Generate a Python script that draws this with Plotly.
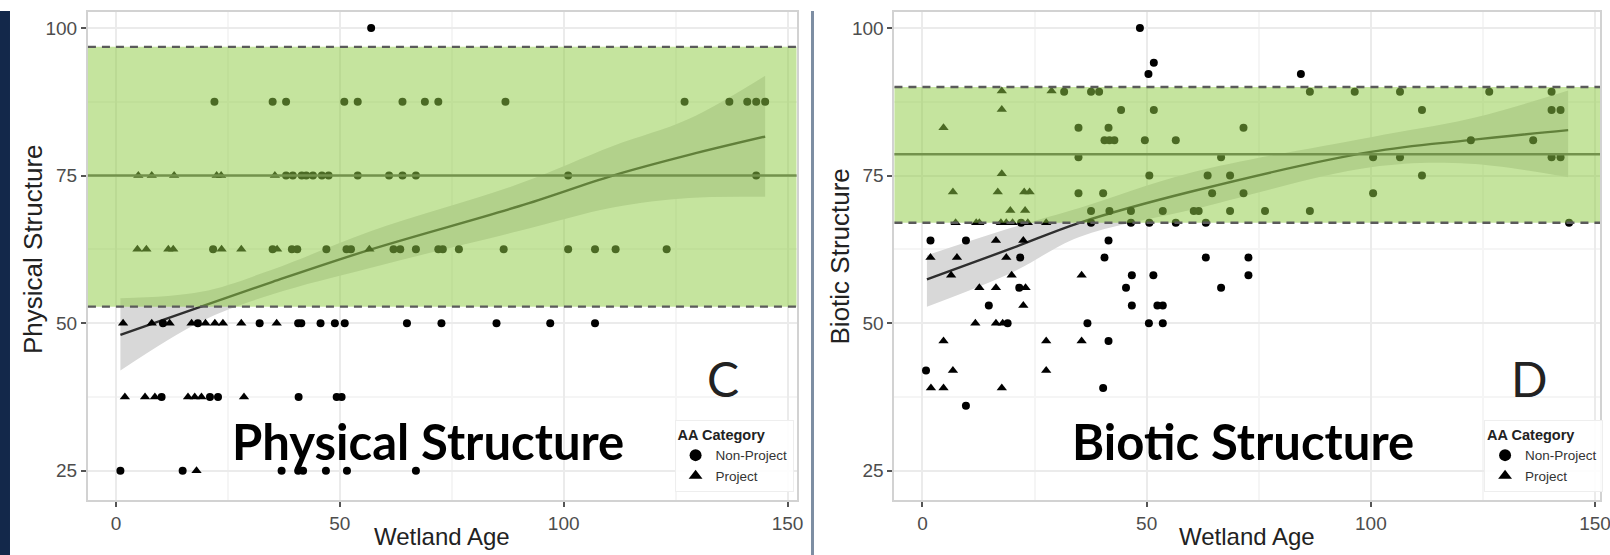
import plotly.graph_objects as go

# ---------------- Panel C: Physical Structure ----------------
c_np_x = [57,
          22, 35, 38, 51, 54, 64, 69, 72, 87, 127, 137, 141, 143, 145,
          38, 39.5, 41.5, 42.5, 44, 46, 47.5, 54, 61, 64, 67, 101, 143,
          21.7, 35, 39.3, 40.5, 47, 51.5, 52.5, 62, 63.5, 67, 72, 73, 76.6, 86.6, 101, 107, 111.6, 123,
          10.5, 18.3, 32.1, 40.7, 41.4, 45.7, 48.9, 51.1, 65, 72.7, 85, 97, 107,
          10.2, 21, 22.8, 40.8, 49.3, 50.4,
          1, 14.9, 37, 40.7, 41.8, 46.9, 51.6, 67]
c_np_y = [100,
          87.5, 87.5, 87.5, 87.5, 87.5, 87.5, 87.5, 87.5, 87.5, 87.5, 87.5, 87.5, 87.5, 87.5,
          75, 75, 75, 75, 75, 75, 75, 75, 75, 75, 75, 75, 75,
          62.5, 62.5, 62.5, 62.5, 62.5, 62.5, 62.5, 62.5, 62.5, 62.5, 62.5, 62.5, 62.5, 62.5, 62.5, 62.5, 62.5, 62.5,
          50, 50, 50, 50, 50, 50, 50, 50, 50, 50, 50, 50, 50,
          37.5, 37.5, 37.5, 37.5, 37.5, 37.5,
          25, 25, 25, 25, 25, 25, 25, 25]
c_p_x = [5, 8, 13, 22.5, 23.5, 35.5,
         4.8, 6.8, 11.7, 12.8, 23.6, 28, 36, 56.6,
         1.6, 8, 12, 16.9, 20, 22.1, 23.9, 28, 35.9,
         2, 6.5, 8.7, 16.1, 17.6, 19.1, 28.6,
         18]
c_p_y = [75, 75, 75, 75, 75, 75,
         62.5, 62.5, 62.5, 62.5, 62.5, 62.5, 62.5, 62.5,
         50, 50, 50, 50, 50, 50, 50, 50, 50,
         37.5, 37.5, 37.5, 37.5, 37.5, 37.5, 37.5,
         25]
c_fit_x = [1, 19, 35, 57, 90, 111, 128, 145]
c_fit_y = [48, 52.8, 57, 62.5, 69.8, 75, 78.5, 81.6]
c_fit_lo = [42, 50.3, 54.9, 59.4, 65.6, 69.6, 71.2, 71.4]
c_fit_hi = [54.2, 55.3, 59.1, 65.6, 73.6, 80, 84.6, 91.9]
c_band = [52.8, 96.8]
c_mean = 75

# ---------------- Panel D: Biotic Structure ----------------
d_np_x = [48.5, 51.6, 50.4, 84.4,
          31.6, 37.6, 39.4, 86.4, 96.4, 106.5, 126.4, 140.3,
          44.3, 51.6, 111.4, 140.3, 142.3,
          34.8, 41.5, 71.6,
          40.6, 41.7, 42.8, 49.6, 56.5, 122.3, 136.2,
          34.8, 66.6, 100.5, 106.5, 140.3, 142.3,
          50.6, 63.6, 68.6, 111.4,
          34.8, 40.3, 64.6, 71.6, 100.5,
          37.6, 41.7, 46.5, 53.6, 60.5, 61.6, 68.6, 76.4, 86.4,
          22, 37.6, 46.5, 50.6, 56.5, 63.2, 144.2,
          1.8, 9.7, 41.5,
          21.8, 40.6, 63.2, 72.7,
          46.7, 51.5, 72.7,
          21.6, 45.4, 66.6,
          14.8, 46.7, 52.4, 53.6,
          19, 36.8, 50.5, 53.6,
          41.5, 0.8, 40.3, 9.7]
d_np_y = [100, 94.1, 92.2, 92.2,
          89.2, 89.2, 89.2, 89.2, 89.2, 89.2, 89.2, 89.2,
          86.1, 86.1, 86.1, 86.1, 86.1,
          83.1, 83.1, 83.1,
          81, 81, 81, 81, 81, 81, 81,
          78.1, 78.1, 78.1, 78.1, 78.1, 78.1,
          75, 75, 75, 75,
          72, 72, 72, 72, 72,
          69, 69, 69, 69, 69, 69, 69, 69, 69,
          67, 67, 67, 67, 67, 67, 67,
          64, 64, 64,
          61.1, 61.1, 61.1, 61.1,
          58.1, 58.1, 58.1,
          56, 56, 56,
          53, 53, 53, 53,
          50, 50, 50, 50,
          47, 42, 39, 36]
d_p_x = [17.7, 28.8, 17.7, 4.7, 17.7,
         6.8, 16.8, 22.7, 23.9,
         19.6, 22.9,
         7.4, 12, 12.7, 17.5, 18.7, 20.1, 23.5, 27.6,
         16.4, 22.5,
         1.8, 7.7, 18.7,
         6.4, 19.9, 35.5,
         12.7, 16.4, 23,
         22.5,
         11.8, 16.4, 17.9,
         4.7, 27.6, 35.5,
         6.8, 27.6,
         1.9, 4.7, 17.7]
d_p_y = [89.3, 89.3, 86.2, 83.1, 75.3,
         72.2, 72.2, 72.2, 72.2,
         69.1, 69.1,
         67, 67, 67, 67, 67, 67, 67, 67,
         64, 64,
         61.1, 61.1, 61.1,
         58.1, 58.1, 58.1,
         56, 56, 56,
         53,
         50, 50, 50,
         47, 47, 47,
         42, 42,
         39, 39, 39]
d_fit_x = [1, 20, 35, 60, 100, 122, 144]
d_fit_y = [57.4, 62.7, 67, 72.3, 79, 81, 82.7]
d_fit_lo = [52.8, 58.6, 64.6, 69.2, 76.4, 77, 74.7]
d_fit_hi = [61.5, 66.2, 69.5, 75.5, 81.5, 84.6, 89.4]
d_band = [67, 90]
d_mean = 78.6

x_ticks = [0, 50, 100, 150]
y_ticks = [25, 50, 75, 100]
legend_title = "AA Category"
cat_names = ["Non-Project", "Project"]

W, H = 1610, 555
FONT = "Liberation Sans"

fig = go.Figure()


def add_panel(xa, ya, leg, np_x, np_y, p_x, p_y, fx, fy, flo, fhi):
    # confidence ribbon
    fig.add_trace(go.Scatter(x=fx, y=flo, mode="lines", line=dict(width=0, shape="spline"),
                             hoverinfo="skip", showlegend=False, xaxis=xa, yaxis=ya))
    fig.add_trace(go.Scatter(x=fx, y=fhi, mode="lines", line=dict(width=0, shape="spline"),
                             fill="tonexty", fillcolor="#d8d8d8",
                             hoverinfo="skip", showlegend=False, xaxis=xa, yaxis=ya))
    fig.add_trace(go.Scatter(x=fx, y=fy, mode="lines", line=dict(color="#2e2e2e", width=2.4, shape="spline"),
                             hoverinfo="skip", showlegend=False, xaxis=xa, yaxis=ya))
    fig.add_trace(go.Scatter(x=np_x, y=np_y, mode="markers", name=cat_names[0],
                             marker=dict(symbol="circle", size=8, color="black"),
                             legend=leg, xaxis=xa, yaxis=ya))
    fig.add_trace(go.Scatter(x=p_x, y=p_y, mode="markers", name=cat_names[1],
                             marker=dict(symbol="triangle-up", size=9, color="black"),
                             legend=leg, xaxis=xa, yaxis=ya))


add_panel("x", "y", "legend", c_np_x, c_np_y, c_p_x, c_p_y, c_fit_x, c_fit_y, c_fit_lo, c_fit_hi)
add_panel("x2", "y2", "legend2", d_np_x, d_np_y, d_p_x, d_p_y, d_fit_x, d_fit_y, d_fit_lo, d_fit_hi)


def xaxis_cfg(domain, rng):
    return dict(domain=domain, range=rng, tickvals=x_ticks, ticks="outside", ticklen=5,
                tickcolor="#555555", tickwidth=1.5, showgrid=True, gridcolor="#ebebeb", gridwidth=1.5,
                minor=dict(showgrid=True, gridcolor="#f5f5f5", dtick=25, tick0=0),
                showline=True, mirror=True, linecolor="#d2d2d2", linewidth=2,
                tickfont=dict(family=FONT, size=19, color="#4d4d4d"), zeroline=False)


def yaxis_cfg(domain, anchor):
    return dict(domain=domain, range=[20.05, 102.7], tickvals=y_ticks, ticks="outside", ticklen=5,
                tickcolor="#555555", tickwidth=1.5, showgrid=True, gridcolor="#ebebeb", gridwidth=1.5,
                minor=dict(showgrid=True, gridcolor="#f5f5f5", dtick=12.5, tick0=0),
                showline=True, mirror=True, linecolor="#d2d2d2", linewidth=2, anchor=anchor,
                tickfont=dict(family=FONT, size=19, color="#4d4d4d"), zeroline=False)


def legend_cfg(xpx):
    return dict(x=xpx / W, y=1 - 420 / H, xanchor="left", yanchor="top", traceorder="normal",
                title=dict(text="<b>" + legend_title + "</b>", font=dict(family=FONT, size=14.5, color="#222")),
                font=dict(family=FONT, size=13.5, color="#333"), bgcolor="rgba(255,255,255,0.9)",
                bordercolor="#eeeeee", borderwidth=1, tracegroupgap=0, itemsizing="constant")


ydom = [55 / H, 543 / H]
fig.update_layout(
    width=1620, height=H, margin=dict(l=0, r=0, t=0, b=0),
    paper_bgcolor="white", plot_bgcolor="white",
    xaxis=xaxis_cfg([88 / W, 797 / W], [-6.25, 152.0]),
    yaxis=yaxis_cfg(ydom, "x"),
    xaxis2=xaxis_cfg([895 / W, 1601 / W], [-6.24, 151.1]) | dict(anchor="y2"),
    yaxis2=yaxis_cfg(ydom, "x2"),
    legend=legend_cfg(675),
    legend2=legend_cfg(1485),
)

shapes = []
for xr, yr, band, mean in [("x", "y", c_band, c_mean), ("x2", "y2", d_band, d_mean)]:
    shapes.append(dict(type="line", xref=xr + " domain", yref=yr, x0=0, x1=1, y0=mean, y1=mean,
                       line=dict(color="#555555", width=2.6), layer="above"))
    shapes.append(dict(type="rect", xref=xr + " domain", yref=yr, x0=0, x1=1, y0=band[0], y1=band[1],
                       fillcolor="rgba(144,203,69,0.52)", line=dict(width=0), layer="above"))
    for yv in band:
        shapes.append(dict(type="line", xref=xr + " domain", yref=yr, x0=0, x1=1, y0=yv, y1=yv,
                           line=dict(color="#5a5a5a", width=2.4, dash="8px,6px"), layer="above"))
# slide decorations
shapes.append(dict(type="rect", xref="paper", yref="paper", x0=0, x1=10 / W, y0=0, y1=1 - 11 / H,
                   fillcolor="#13284a", line=dict(width=0), layer="above"))
shapes.append(dict(type="line", xref="paper", yref="paper", x0=813 / W, x1=813 / W, y0=0, y1=1 - 11 / H,
                   line=dict(color="#7d8ea3", width=3), layer="above"))
fig.update_layout(shapes=shapes)

ann = []


def txt(text, x, y, size, family=FONT, color="#222", angle=0, bold=False):
    ann.append(dict(text=("<b>%s</b>" % text) if bold else text, x=x / W, y=1 - y / H, xref="paper",
                    yref="paper", showarrow=False, textangle=angle, xanchor="center", yanchor="middle",
                    font=dict(family=family, size=size, color=color)))


txt("Physical Structure", 33, 249, 26, angle=-90)
txt("Biotic Structure", 841, 256, 26, angle=-90)
txt("Wetland Age", 442, 536, 24)
txt("Wetland Age", 1248, 536, 24)
txt("Physical Structure", 428, 441, 49, family="Lato", color="black", bold=True)
txt("Biotic Structure", 1244, 441, 49, family="Lato", color="black", bold=True)
txt("C", 723, 378, 48, family="Lato", color="#222")
txt("D", 1530, 378, 48, family="Lato", color="#222")
fig.update_layout(annotations=ann)

fig.write_html("out.html", config={"displayModeBar": False},
               post_script="document.body.style.margin='0';document.body.style.overflow='hidden';")
